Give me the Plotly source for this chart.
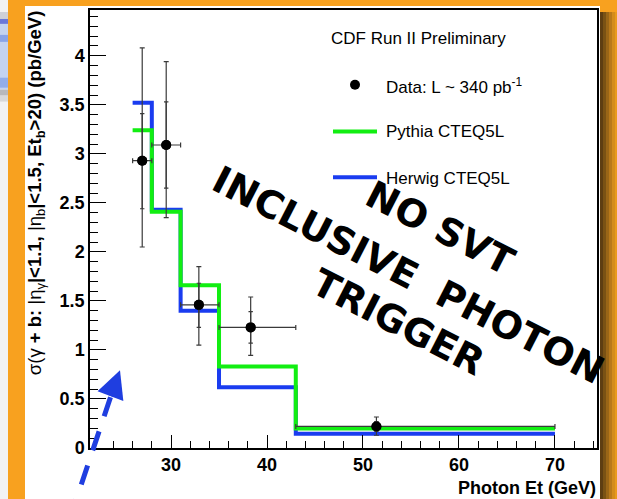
import plotly.graph_objects as go

# ---- data -------------------------------------------------------------
bin_edges = [26, 28, 31, 35, 43, 70]
pythia = [3.24, 2.41, 1.66, 0.83, 0.20]
herwig = [3.52, 2.43, 1.40, 0.62, 0.145]

data_x = [27.0, 29.5, 32.9, 38.3, 51.4]
data_y = [2.93, 3.09, 1.46, 1.23, 0.22]
err_tot_up = [1.15, 0.85, 0.39, 0.31, 0.096]
err_tot_dn = [0.88, 0.74, 0.41, 0.285, 0.09]
err_stat_up = [0.48, 0.44, 0.22, 0.16, 0.05]
err_stat_dn = [0.49, 0.44, 0.23, 0.16, 0.05]

x_tick_vals = [30, 40, 50, 60, 70]
y_tick_vals = [0, 0.5, 1, 1.5, 2, 2.5, 3, 3.5, 4]

# ---- geometry of the canvas (pixels) -----------------------------------
W, H = 617, 499
L, R, T, B = 90, 597, 8, 448  # plot frame


def px(x):
    return (x - L) / (R - L)


def py(y):
    return (B - y) / (B - T)


GREEN = "#12ee12"
BLUE = "#1a3cf0"
ORANGE = "#f8a11f"
ERR = "#3a3a3a"
FONT = "Liberation Sans"

fig = go.Figure()

# Step outlines of the two MC predictions (last value repeated to close bin)
for vals, col in ((herwig, BLUE), (pythia, GREEN)):
    fig.add_trace(go.Scatter(
        x=bin_edges, y=vals + [vals[-1]], mode="lines",
        line=dict(color=col, width=4, shape="hv"), hoverinfo="skip",
    ))

x_lo = [d - e for d, e in zip(data_x, bin_edges[:-1])]
x_hi = [e - d for d, e in zip(data_x, bin_edges[1:])]

# Data with total errors and bin-width horizontal bars
fig.add_trace(go.Scatter(
    x=data_x, y=data_y, mode="markers",
    marker=dict(color="black", size=10),
    error_y=dict(type="data", symmetric=False, array=err_tot_up,
                 arrayminus=err_tot_dn, color=ERR, thickness=1.2, width=2.5),
    error_x=dict(type="data", symmetric=False, array=x_hi,
                 arrayminus=x_lo, color=ERR, thickness=1.2, width=2.5),
))
# Statistical-only error ticks
fig.add_trace(go.Scatter(
    x=data_x, y=data_y, mode="markers",
    marker=dict(color="black", size=10),
    error_y=dict(type="data", symmetric=False, array=err_stat_up,
                 arrayminus=err_stat_dn, color=ERR, thickness=1.2, width=2.2),
))

shapes = []
# white page behind the canvas
shapes.append(dict(type="rect", xref="paper", yref="paper", layer="below",
                   x0=px(25), x1=px(600), y0=py(H + 2), y1=py(4),
                   fillcolor="white", line=dict(width=0)))
# left window strip
shapes.append(dict(type="rect", xref="paper", yref="paper", layer="below",
                   x0=px(-2), x1=px(8), y0=py(H + 2), y1=py(-2),
                   fillcolor="#f2f2f4", line=dict(width=0)))
for y0, y1, c in ((10, 17, "#cfd0d8"), (17, 22, "#6c78d8"), (22, 88, "#c4d3f0"),
                  (33, 40, "#8aa4e8"), (76, 86, "#93ade8"), (88, 94, "#b8b8bc"),
                  (94, 100, "#d8d8da")):
    shapes.append(dict(type="rect", xref="paper", yref="paper", layer="below",
                       x0=px(-2), x1=px(8), y0=py(y1), y1=py(y0),
                       fillcolor=c, line=dict(width=0)))
# right drop shadow
for x0, c in ((600, "#5e3e12"), (603, "#7a5214"), (606, "#9a6617"),
              (609, "#b9791a"), (612, "#d48c1c"), (615, "#e99a1e")):
    shapes.append(dict(type="rect", xref="paper", yref="paper", layer="below",
                       x0=px(x0), x1=px(x0 + 3.2), y0=py(H + 2), y1=py(10),
                       fillcolor=c, line=dict(width=0)))

# legend keys
shapes.append(dict(type="circle", xref="paper", yref="paper",
                   x0=px(350), x1=px(360), y0=py(88), y1=py(78),
                   fillcolor="black", line=dict(width=0)))
shapes.append(dict(type="line", xref="paper", yref="paper",
                   x0=px(333), x1=px(377), y0=py(130), y1=py(130),
                   line=dict(color=GREEN, width=4)))
shapes.append(dict(type="line", xref="paper", yref="paper",
                   x0=px(333), x1=px(377), y0=py(176), y1=py(176),
                   line=dict(color=BLUE, width=4)))

# dashed arrow shaft
shapes.append(dict(type="line", xref="paper", yref="paper",
                   x0=px(110.5), y0=py(397), x1=px(73.5), y1=py(508),
                   line=dict(color="#1f3ee0", width=5, dash="20px,16px")))

annotations = []
# arrow head
annotations.append(dict(xref="paper", yref="paper", x=px(120), y=py(370),
                        ax=-10, ay=27, text="", showarrow=True,
                        arrowhead=2, arrowsize=1.1, arrowwidth=5,
                        arrowcolor="#1f3ee0"))

legend_font = dict(family=FONT, size=17, color="black")
annotations.append(dict(xref="paper", yref="paper", x=px(329), y=py(37),
                        xanchor="left", yanchor="middle", showarrow=False,
                        text="CDF Run II Preliminary", font=legend_font))
annotations.append(dict(xref="paper", yref="paper", x=px(384), y=py(84),
                        xanchor="left", yanchor="middle", showarrow=False,
                        text="Data: L ~ 340 pb<sup>-1</sup>", font=legend_font))
annotations.append(dict(xref="paper", yref="paper", x=px(384), y=py(130),
                        xanchor="left", yanchor="middle", showarrow=False,
                        text="Pythia CTEQ5L", font=legend_font))
annotations.append(dict(xref="paper", yref="paper", x=px(384), y=py(177),
                        xanchor="left", yanchor="middle", showarrow=False,
                        text="Herwig CTEQ5L", font=legend_font))

# axis titles
annotations.append(dict(
    xref="paper", yref="paper", x=px(36), y=py(192), xanchor="center",
    yanchor="middle", showarrow=False, textangle=-90,
    text=("σ(γ <b>+ b:</b> |η<sub>γ</sub><b>|&lt;1.1,</b> |η<sub>b</sub>"
          "<b>|&lt;1.5, Et<sub>b</sub>&gt;20) (pb/GeV)</b>"),
    font=dict(family=FONT, size=18.5, color="black")))
annotations.append(dict(
    xref="paper", yref="paper", x=px(598), y=py(488), xanchor="right",
    yanchor="middle", showarrow=False, text="<b>Photon Et (GeV)</b>",
    font=dict(family=FONT, size=18, color="black")))

# overlaid stamp
stamp_font = dict(family="DejaVu Sans", size=38, color="black", weight="bold")
for txt, cx, cy in (("NO SVT", 440, 227), ("INCLUSIVE  PHOTON", 408, 274),
                    ("TRIGGER", 398, 321)):
    annotations.append(dict(xref="paper", yref="paper", x=px(cx), y=py(cy),
                            xanchor="center", yanchor="middle",
                            showarrow=False, textangle=27, text=txt,
                            font=stamp_font))

tick_font = dict(family=FONT, size=18, color="black", weight="bold")
fig.update_layout(
    width=W, height=H,
    margin=dict(l=L, r=W - R, t=T, b=H - B, pad=0),
    paper_bgcolor=ORANGE, plot_bgcolor="white",
    showlegend=False,
    shapes=shapes, annotations=annotations,
    xaxis=dict(range=[21.56, 74.38], tickmode="array", tickvals=x_tick_vals,
               ticks="inside", ticklen=13, tickwidth=1, tickcolor="black",
               minor=dict(dtick=2, tick0=0, ticks="inside", ticklen=7,
                          tickwidth=1, tickcolor="black"),
               showline=True, linecolor="black", linewidth=1.5, mirror=True,
               showgrid=False, zeroline=False, tickfont=tick_font),
    yaxis=dict(range=[0, 4.467], tickmode="array", tickvals=y_tick_vals,
               ticks="inside", ticklen=16, tickwidth=1, tickcolor="black",
               minor=dict(dtick=0.1, tick0=0, ticks="inside", ticklen=8,
                          tickwidth=1, tickcolor="black"),
               showline=True, linecolor="black", linewidth=1.5, mirror=True,
               showgrid=False, zeroline=False, tickfont=tick_font),
)

fig.write_html("out.html")
